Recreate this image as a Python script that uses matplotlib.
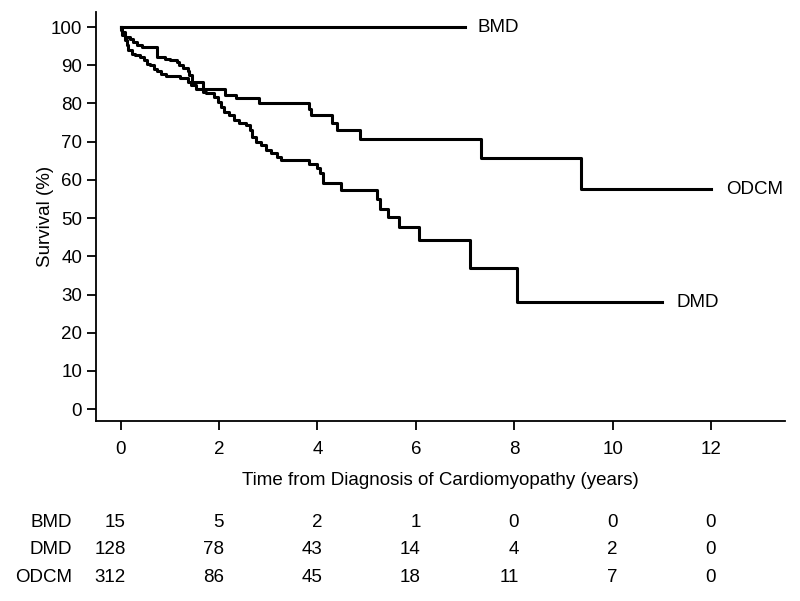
import matplotlib
matplotlib.use("Agg")
import matplotlib.pyplot as plt

plt.rcParams['font.family'] = ['Liberation Sans', 'DejaVu Sans']

# Kaplan-Meier steps (years, survival %)
bmd_t = [0, 7.0]
bmd_s = [100, 100]

dmd_t = [0, 0.01, 0.03, 0.09, 0.13, 0.16, 0.23, 0.30, 0.40, 0.47, 0.53, 0.60,
         0.67, 0.74, 0.82, 0.92, 1.20, 1.36, 1.43, 1.53, 1.67, 1.73, 1.90, 1.97,
         2.04, 2.11, 2.21, 2.31, 2.41, 2.55, 2.62, 2.68, 2.75, 2.85, 2.96, 3.06,
         3.18, 3.26, 3.82, 4.00, 4.06, 4.12, 4.48, 5.22, 5.27, 5.43, 5.65, 6.07,
         7.11, 8.05, 11.0]
dmd_s = [100, 99.2, 97.8, 96.5, 95.2, 93.9, 93.0, 92.6, 92.1, 91.3, 90.4, 90.0,
         89.1, 88.6, 87.8, 87.2, 86.6, 85.7, 84.8, 83.9, 83.1, 82.6, 81.8, 80.4,
         79.1, 77.8, 77.0, 75.7, 74.8, 74.3, 73.0, 71.3, 70.0, 69.1, 67.8, 66.9,
         66.0, 65.2, 64.1, 63.1, 61.8, 59.1, 57.3, 55.1, 52.5, 50.2, 47.7, 44.2,
         37.0, 28.0, 28.0]

odcm_t = [0, 0.03, 0.09, 0.20, 0.26, 0.33, 0.43, 0.74, 0.91, 1.01, 1.14, 1.19,
          1.26, 1.36, 1.40, 1.46, 1.67, 2.13, 2.34, 2.82, 3.82, 3.86, 4.29, 4.39,
          4.87, 7.33, 9.35, 12.0]
odcm_s = [100, 98.7, 97.4, 96.9, 96.1, 95.2, 94.8, 92.1, 91.7, 91.3, 90.8, 90.0,
          89.2, 88.5, 87.4, 85.7, 83.8, 82.2, 81.3, 80.2, 78.6, 77.0, 75.0, 73.0,
          70.8, 65.8, 57.5, 57.5]

# numbers at risk
risk_times = [0, 2, 4, 6, 8, 10, 12]
risk_groups = ['BMD', 'DMD', 'ODCM']
risk_bmd = [15, 5, 2, 1, 0, 0, 0]
risk_dmd = [128, 78, 43, 14, 4, 2, 0]
risk_odcm = [312, 86, 45, 18, 11, 7, 0]

FS = 13.5

fig = plt.figure(figsize=(8, 6.01), dpi=100)
ax = fig.add_axes([0.12, 0.2995, 0.861, 0.681])

for t, s in [(bmd_t, bmd_s), (dmd_t, dmd_s), (odcm_t, odcm_s)]:
    ax.step(t, s, where='post', color='black', lw=2.2)

ax.text(7.25, 100, 'BMD', fontsize=FS, va='center', ha='left')
ax.text(12.3, 57.5, 'ODCM', fontsize=FS, va='center', ha='left')
ax.text(11.3, 28.0, 'DMD', fontsize=FS, va='center', ha='left')

ax.set_xlim(-0.5, 13.5)
ax.set_ylim(-3.1, 104)
ax.set_xticks(range(0, 13, 2))
ax.set_yticks(range(0, 101, 10))
ax.spines['top'].set_visible(False)
ax.spines['right'].set_visible(False)
for sp in ['left', 'bottom']:
    ax.spines[sp].set_linewidth(1.3)
ax.tick_params(axis='both', labelsize=FS, width=1.3, length=6.5)
ax.tick_params(axis='x', pad=8)
ax.tick_params(axis='y', pad=3.5)

ax.set_ylabel('Survival (%)', fontsize=FS, labelpad=-2)
ax.set_xlabel('Time from Diagnosis of Cardiomyopathy (years)', fontsize=FS, labelpad=10)

# numbers-at-risk table under the axis
trans = matplotlib.transforms.blended_transform_factory(ax.transData, fig.transFigure)
row_y = [0.1314, 0.0849, 0.0383]
for name, vals, y in zip(risk_groups, [risk_bmd, risk_dmd, risk_odcm], row_y):
    fig.text(0.09, y, name, fontsize=FS, ha='right', va='center')
    for t, v in zip(risk_times, vals):
        ax.text(t + 0.1, y, str(v), fontsize=FS, ha='right', va='center',
                transform=trans, clip_on=False)

fig.savefig('out.png', dpi=100)
